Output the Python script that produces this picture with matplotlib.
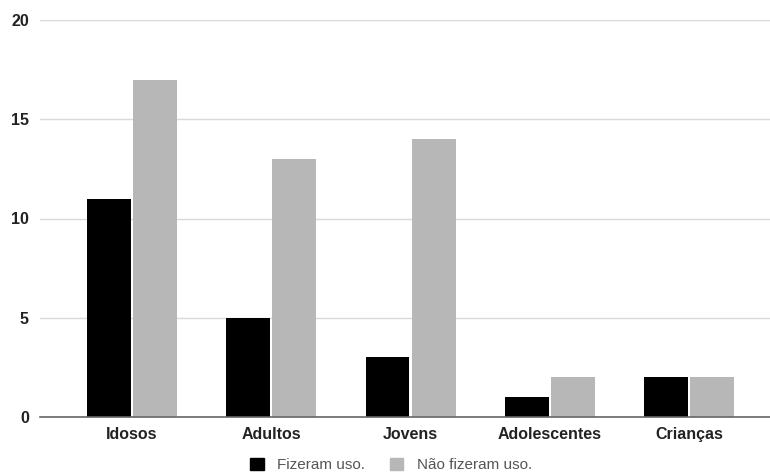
import matplotlib
matplotlib.use("Agg")
import matplotlib.pyplot as plt
import matplotlib.patches as mpatches
import numpy as np

categories = ["Idosos", "Adultos", "Jovens", "Adolescentes", "Crianças"]
fizeram = [11, 5, 3, 1, 2]
nao_fizeram = [17, 13, 14, 2, 2]
series_labels = ["Fizeram uso.", "Não fizeram uso."]
yticks = [0, 5, 10, 15, 20]

BLACK = "#000000"
GRAY = "#b7b7b7"
FONT = ["Liberation Sans", "DejaVu Sans"]

plt.rcParams["font.family"] = FONT

fig = plt.figure(figsize=(7.7, 4.76), dpi=100)
ax = fig.add_axes([40 / 770, 1 - 417 / 476, 730 / 770, 397 / 476])

x = np.arange(len(categories))
w = 0.315
off = 0.166
ax.bar(x - off, fizeram, width=w, color=BLACK, zorder=3)
ax.bar(x + off, nao_fizeram, width=w, color=GRAY, zorder=3)

ax.set_xlim(-0.66, 4.58)
ax.set_ylim(0, 20)
ax.set_yticks(yticks)
ax.set_yticklabels([str(v) for v in yticks], fontsize=11.5, fontweight="bold",
                   color="#222222")
ax.set_xticks(x)
ax.set_xticklabels(categories, fontsize=11.5, fontweight="bold", color="#222222")
ax.tick_params(axis="both", length=0)
ax.tick_params(axis="y", pad=8)
ax.tick_params(axis="x", pad=7)

ax.grid(axis="y", color="#d9d9d9", linewidth=1, zorder=0)
for s in ["top", "right", "left"]:
    ax.spines[s].set_visible(False)
ax.spines["bottom"].set_color("#666666")
ax.spines["bottom"].set_linewidth(1.2)
ax.spines["bottom"].set_zorder(4)

handles = [mpatches.Patch(color=BLACK, label=series_labels[0]),
           mpatches.Patch(color=GRAY, label=series_labels[1])]
leg = fig.legend(handles=handles, loc="center", bbox_to_anchor=(391 / 770, 1 - 465 / 476),
                 ncol=2, frameon=False, fontsize=11, handlelength=0.9, handleheight=0.9,
                 handletextpad=0.9, columnspacing=1.6)
for t in leg.get_texts():
    t.set_color("#555555")

fig.savefig("out.png", dpi=100, facecolor="white")
